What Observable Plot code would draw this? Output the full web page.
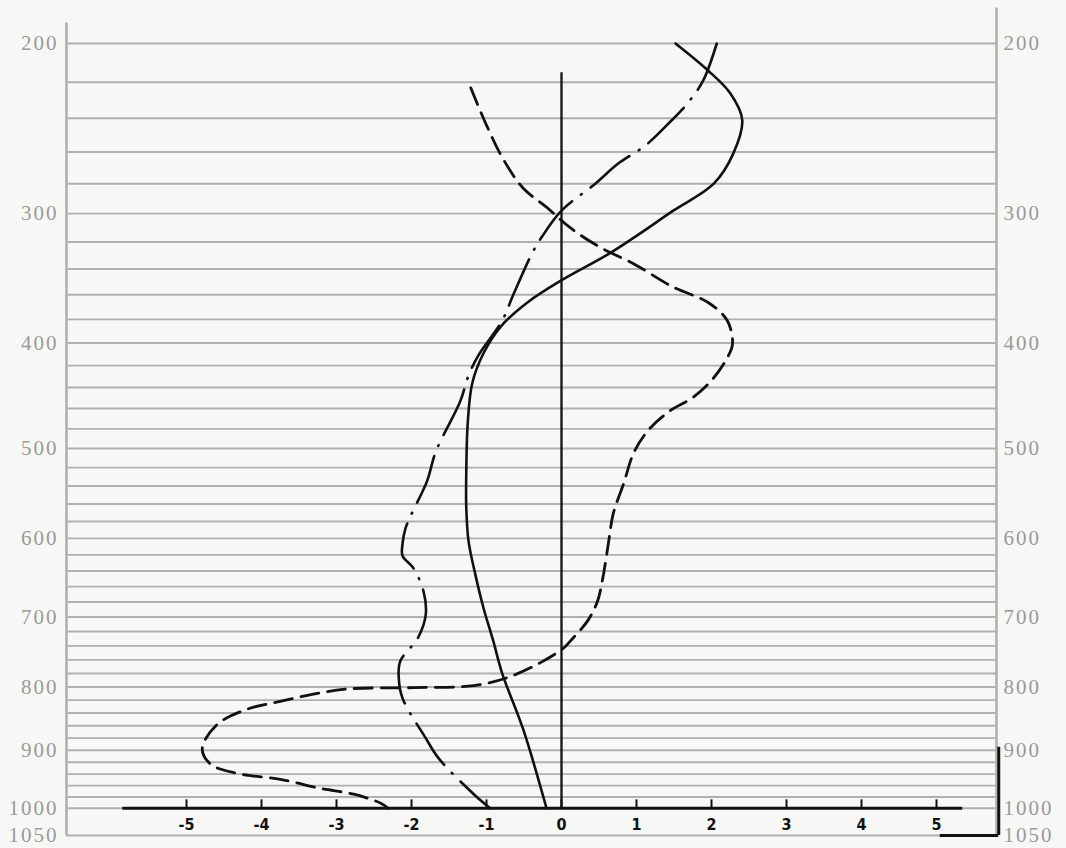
<!DOCTYPE html>
<html>
<head>
<meta charset="utf-8">
<script src="https://cdn.jsdelivr.net/npm/d3@7"></script>
<script src="https://cdn.jsdelivr.net/npm/@observablehq/plot@0.6"></script>
<style>
  html, body { margin: 0; padding: 0; background: #f7f7f5; }
  #chart svg { display: block; background: #f7f7f5; }
  #chart g[aria-description="ylabel"] text { letter-spacing: 2px; }
</style>
</head>
<body>
<div id="chart"></div>
<script>
// ---- data ----
// pressure-axis tick labels (hPa)
const yTickLabels = [200, 300, 400, 500, 600, 700, 800, 900, 1000, 1050];
// horizontal ruling every 20 hPa plus the 1050 bottom line
const gridPressures = d3.range(200, 1001, 20).concat([1050]);
// x-axis ticks
const xTicks = [-5, -4, -3, -2, -1, 0, 1, 2, 3, 4, 5];

// solid curve
const solidPressure = [200, 214, 226, 241, 261, 280, 298, 317, 330, 349, 366, 386, 409, 436, 474, 527, 563, 603, 644, 688, 733, 780, 866, 1000];
const solidValue    = [1.52, 1.96, 2.25, 2.41, 2.29, 2.03, 1.49, 0.96, 0.59, -0.01, -0.45, -0.81, -1.04, -1.19, -1.25, -1.27, -1.27, -1.24, -1.15, -1.04, -0.91, -0.79, -0.51, -0.20];

// dashed curve
const dashedPressure = [223, 245, 265, 283, 296, 310, 324, 336, 354, 366, 381, 401, 413, 431, 449, 462, 482, 505, 537, 571, 603, 644, 679, 705, 733, 743, 764, 786, 798, 801, 803, 811, 822, 834, 858, 897, 923, 939, 949, 965, 975, 991, 1000];
const dashedValue    = [-1.21, -0.99, -0.77, -0.51, -0.19, 0.12, 0.52, 0.96, 1.49, 1.95, 2.21, 2.28, 2.21, 2.03, 1.76, 1.45, 1.15, 0.96, 0.83, 0.69, 0.63, 0.56, 0.48, 0.35, 0.12, 0.03, -0.28, -0.72, -1.17, -1.97, -2.85, -3.31, -3.75, -4.19, -4.59, -4.79, -4.68, -4.32, -3.75, -3.21, -2.77, -2.41, -2.31];

// dash-dot curve
const dashDotPressure = [200, 219, 231, 242, 256, 267, 280, 298, 317, 328, 361, 381, 411, 429, 453, 504, 534, 588, 607, 621, 637, 666, 697, 728, 762, 786, 817, 880, 913, 975, 1000];
const dashDotValue    = [2.07, 1.89, 1.69, 1.45, 1.12, 0.76, 0.45, 0.00, -0.27, -0.39, -0.65, -0.79, -1.11, -1.24, -1.35, -1.68, -1.79, -2.08, -2.12, -2.12, -1.97, -1.84, -1.81, -1.91, -2.15, -2.17, -2.12, -1.81, -1.64, -1.17, -0.95];

// frame / decoration extents (data units)
const xDomain = [-6.6, 5.8];
const leftBorderTop = 190, rightBorderTop = 183;
const zeroLineTop = 215;
const xAxisExtent = [-5.85, 5.35];
const tickTop = 985;
const cornerMarkX = 5.83, cornerMarkTop = 895, cornerMarkLeft = 5.05;

const zip = (ps, vs) => ps.map((p, i) => ({p, v: vs[i]}));
const solid = zip(solidPressure, solidValue);
const dashed = zip(dashedPressure, dashedValue);
const dashDot = zip(dashDotPressure, dashDotValue);

const gridColor = "#b0b0b0";
const ink = "#111";
const serif = "'Liberation Serif', 'DejaVu Serif', serif";

const chart = Plot.plot({
  width: 1066,
  height: 848,
  marginLeft: 66,
  marginRight: 70,
  marginTop: 43,
  marginBottom: 13,
  style: {background: "#f7f7f5", overflow: "visible"},
  x: {domain: xDomain, axis: null},
  y: {type: "pow", exponent: 0.2, domain: [200, 1050], reverse: true, axis: null},
  marks: [
    // ruled paper
    Plot.ruleY(gridPressures, {y: d => d, stroke: gridColor, strokeWidth: 1.9}),
    Plot.ruleX([xDomain[0]], {y1: leftBorderTop, y2: 1050, stroke: gridColor, strokeWidth: 2.6}),
    Plot.ruleX([xDomain[1]], {y1: rightBorderTop, y2: 1050, stroke: gridColor, strokeWidth: 2.6}),
    // pressure labels
    Plot.text(yTickLabels, {y: d => d, frameAnchor: "left", dx: -8, textAnchor: "end",
      text: d => String(d), fill: "#9a9a9a", fontSize: 21, fontFamily: serif, ariaDescription: "ylabel"}),
    Plot.text(yTickLabels, {y: d => d, frameAnchor: "right", dx: 7, textAnchor: "start",
      text: d => String(d), fill: "#9a9a9a", fontSize: 21, fontFamily: serif, ariaDescription: "ylabel"}),
    // zero line
    Plot.ruleX([0], {y1: zeroLineTop, y2: 1000, stroke: ink, strokeWidth: 2.3}),
    // x axis
    Plot.ruleY([1000], {x1: xAxisExtent[0], x2: xAxisExtent[1], stroke: ink, strokeWidth: 3.2}),
    Plot.ruleX(xTicks, {x: d => d, y1: 1000, y2: tickTop, stroke: ink, strokeWidth: 2}),
    Plot.text(xTicks, {x: d => d, y: 1000, dy: 17, text: d => d < 0 ? "-" + Math.abs(d) : String(d),
      fill: ink, fontSize: 16, fontWeight: "bold", fontFamily: "'DejaVu Sans Condensed', 'DejaVu Sans', sans-serif"}),
    // corner marks
    Plot.ruleX([cornerMarkX], {y1: cornerMarkTop, y2: 1050, stroke: ink, strokeWidth: 3}),
    Plot.ruleY([1050], {x1: cornerMarkLeft, x2: cornerMarkX, stroke: ink, strokeWidth: 3}),
    // curves
    Plot.line(solid, {x: "v", y: "p", curve: "catmull-rom", stroke: ink, strokeWidth: 2.6}),
    Plot.line(dashed, {x: "v", y: "p", curve: "catmull-rom", stroke: ink, strokeWidth: 2.8,
      strokeDasharray: "18,9"}),
    Plot.line(dashDot, {x: "v", y: "p", curve: "catmull-rom", stroke: ink, strokeWidth: 2.6,
      strokeDasharray: "50,11,1,11", strokeLinecap: "round"})
  ]
});

document.getElementById("chart").appendChild(chart);
</script>
</body>
</html>
